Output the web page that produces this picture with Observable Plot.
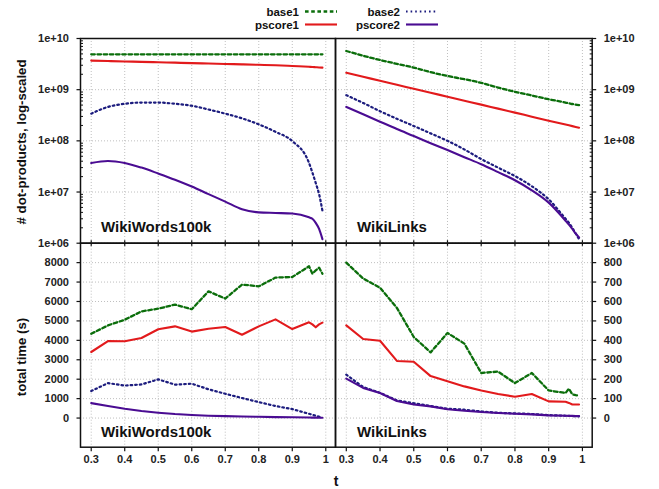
<!DOCTYPE html>
<html><head><meta charset="utf-8">
<script src="https://cdn.jsdelivr.net/npm/d3@7"></script>
<script src="https://cdn.jsdelivr.net/npm/@observablehq/plot@0.6"></script>
<style>
body{margin:0;background:#fff;}
#wrap{position:relative;width:659px;height:489px;overflow:hidden;background:#fff;}
#wrap > svg{position:absolute;left:0;top:0;}
</style></head><body><div id="wrap"></div>
<script>
// ---------- data ----------
const T = [0.30,0.35,0.40,0.45,0.50,0.55,0.60,0.65,0.70,0.75,0.80,0.85,0.90,0.95,0.96,0.97,0.98,0.99];

// # dot-products, WikiWords100k
const wwDotBase1  = [4.9e9,4.9e9,4.9e9,4.9e9,4.9e9,4.9e9,4.9e9,4.9e9,4.9e9,4.9e9,4.9e9,4.9e9,4.9e9,4.9e9,4.9e9,4.9e9,4.9e9,4.9e9];
const wwDotPscore1= [3.70e9,3.63e9,3.56e9,3.50e9,3.43e9,3.37e9,3.30e9,3.24e9,3.18e9,3.12e9,3.06e9,3.00e9,2.90e9,2.80e9,2.78e9,2.75e9,2.72e9,2.70e9];
const wwDotBase2  = [3.4e8,4.6e8,5.3e8,5.6e8,5.6e8,5.3e8,4.85e8,4.1e8,3.4e8,2.75e8,2.1e8,1.5e8,9.9e7,3.7e7,2.4e7,1.5e7,9.1e6,4.3e6];
const wwDotPscore2= [3.7e7,4.05e7,3.7e7,3.0e7,2.3e7,1.74e7,1.28e7,9.1e6,6.5e6,4.6e6,4.0e6,3.9e6,3.8e6,3.2e6,3.0e6,2.5e6,1.9e6,1.2e6];

// # dot-products, WikiLinks
const wlDotBase1  = [5.7e9,4.6e9,3.8e9,3.2e9,2.7e9,2.2e9,1.85e9,1.6e9,1.36e9,1.1e9,9.1e8,7.7e8,6.5e8,5.6e8,5.4e8,5.25e8,5.1e8,5.0e8];
const wlDotPscore1= [2.14e9,1.79e9,1.49e9,1.25e9,1.04e9,8.7e8,7.3e8,6.1e8,5.1e8,4.26e8,3.56e8,2.97e8,2.48e8,2.08e8,2.01e8,1.94e8,1.87e8,1.8e8];
const wlDotBase2  = [7.8e8,5.5e8,3.8e8,2.7e8,1.95e8,1.4e8,1.0e8,6.8e7,4.4e7,3.0e7,2.05e7,1.3e7,7.2e6,3.0e6,2.5e6,2.0e6,1.55e6,1.2e6];
const wlDotPscore2= [4.6e8,3.3e8,2.37e8,1.7e8,1.24e8,9.0e7,6.6e7,4.8e7,3.5e7,2.45e7,1.7e7,1.08e7,6.2e6,2.75e6,2.3e6,1.9e6,1.55e6,1.29e6];

// total time (s), WikiWords100k
const wwTimeBase1  = [4340,4770,5060,5490,5630,5840,5600,6520,6150,6870,6780,7230,7260,7810,7430,7600,7740,7430];
const wwTimePscore1= [3400,3960,3950,4120,4570,4720,4450,4600,4690,4290,4720,5080,4580,4930,4820,4670,4820,4910];
const wwTimeBase2  = [1390,1800,1670,1730,1990,1720,1770,1480,1250,1030,820,620,460,220,170,120,70,50];
const wwTimePscore2= [770,620,480,360,275,205,155,120,100,80,65,50,40,25,22,20,17,15];

// total time (s), WikiLinks
const wlTimeBase1  = [800,718,671,567,417,338,438,383,232,239,180,232,142,129,151,122,118,115];
const wlTimePscore1= [477,407,398,294,290,216,189,163,142,124,110,124,86,84,78,70,70,70];
const wlTimeBase2  = [223,160,130,91,76,62,48,43,34,27,24,21,15,12,11,10,10,9];
const wlTimePscore2= [203,155,129,88,70,60,45,38,31,26,22,19,14,12,11,11,10,10];

// ticks
const xTicks = [0.3,0.4,0.5,0.6,0.7,0.8,0.9,1.0];
const xTickLabels = ["0.3","0.4","0.5","0.6","0.7","0.8","0.9","1"];
const logTicks = [1e6,1e7,1e8,1e9,1e10];
const logTickLabels = ["1e+06","1e+07","1e+08","1e+09","1e+10"];
const logMinor = [2e6,3e6,4e6,5e6,6e6,7e6,8e6,9e6,2e7,3e7,4e7,5e7,6e7,7e7,8e7,9e7,2e8,3e8,4e8,5e8,6e8,7e8,8e8,9e8,2e9,3e9,4e9,5e9,6e9,7e9,8e9,9e9];
const wwTimeTicks = [0,1000,2000,3000,4000,5000,6000,7000,8000];
const wlTimeTicks = [0,100,200,300,400,500,600,700,800];

const seriesNames = ["base1","base2","pscore1","pscore2"];
const panelNames = ["WikiWords100k","WikiLinks"];

// ---------- styles ----------
const STY = {
  base1:  {stroke:"#0b6e0b", strokeWidth:2.3, strokeDasharray:"3.6,2.6"},
  base2:  {stroke:"#1c1c7e", strokeWidth:2.2, strokeDasharray:"1.6,3"},
  pscore1:{stroke:"#e21a1c", strokeWidth:2.1},
  pscore2:{stroke:"#4a0c92", strokeWidth:2.1}
};
const FONT = "'Liberation Sans', Arial, Helvetica, sans-serif";
const W = 659, H = 489;
const xL = 80, xM = 335, xR = 591.7, yT = 38, yMid = 242.7, yB = 446.7;

function seg(x1,y1,x2,y2){ return {draw(c){ c.moveTo(x1,y1); c.lineTo(x2,y2); }}; }

function panel({left, top, series, yType, yDomain, yTicks, yLabels, yMinor, side, bottomPanel}) {
  const ml = left ? xL : xM, mr = W - (left ? xM : xR);
  const mt = top ? yT : yMid, mb = H - (top ? yMid : yB);
  const grid = {stroke:"#b8b8b8", strokeWidth:0.9, strokeDasharray:"1,2"};
  const marks = [
    Plot.ruleX(xTicks, {x:d=>d, ...grid}),
    Plot.ruleY(yTicks, {y:d=>d, ...grid})
  ];
  series.forEach((vals, k) => {
    const name = seriesNames[k];
    marks.push(Plot.line(T.map((t,i)=>({t, v:vals[i]})), {x:"t", y:"v", ...STY[name], curve: top ? "monotone-x" : "linear", strokeLinejoin:"round"}));
  });
  marks.push(Plot.frame({stroke:"#111", strokeWidth:1.5}));
  // x tick marks
  marks.push(Plot.dot(xTicks, {x:d=>d, y:yDomain[0], symbol: bottomPanel ? seg(0,0,0,4) : seg(0,-3,0,3), stroke:"#111", strokeWidth:1.2, fill:"none"}));
  // y tick marks
  const sgn = side === "left" ? -1 : 1;
  marks.push(Plot.dot(yTicks, {y:d=>d, frameAnchor:side, symbol: seg(0,0,sgn*4,0), stroke:"#111", strokeWidth:1.2, fill:"none"}));
  if (yMinor) marks.push(Plot.dot(yMinor, {y:d=>d, frameAnchor:side, symbol: seg(0,0,-sgn*2.5,0), stroke:"#111", strokeWidth:1, fill:"none"}));
  const tstyle = {fontSize:11, fontWeight:"bold", fill:"#222", fontFamily:FONT};
  marks.push(Plot.text(yTicks, {y:d=>d, text:(d,i)=>yLabels[i], frameAnchor:side, dx: sgn*11.5, textAnchor: side === "left" ? "end" : "start", ...tstyle}));
  if (bottomPanel) marks.push(Plot.text(xTicks, {x:d=>d, text:(d,i)=>xTickLabels[i], frameAnchor:"bottom", dy:15.5, ...tstyle}));
  return Plot.plot({
    width: W, height: H,
    marginLeft: ml, marginRight: mr, marginTop: mt, marginBottom: mb,
    x: {domain:[0.268,1.029], axis:null},
    y: {type:yType, domain:yDomain, axis:null},
    style: {background:"none", overflow:"visible", fontFamily:FONT},
    marks
  });
}

const wrap = document.getElementById("wrap");
wrap.appendChild(panel({left:true, top:true, series:[wwDotBase1,wwDotBase2,wwDotPscore1,wwDotPscore2], yType:"log", yDomain:[1e6,1e10], yTicks:logTicks, yLabels:logTickLabels, yMinor:logMinor, side:"left", bottomPanel:false}));
wrap.appendChild(panel({left:false, top:true, series:[wlDotBase1,wlDotBase2,wlDotPscore1,wlDotPscore2], yType:"log", yDomain:[1e6,1e10], yTicks:logTicks, yLabels:logTickLabels, yMinor:logMinor, side:"right", bottomPanel:false}));
wrap.appendChild(panel({left:true, top:false, series:[wwTimeBase1,wwTimeBase2,wwTimePscore1,wwTimePscore2], yType:"linear", yDomain:[-1500,9000], yTicks:wwTimeTicks, yLabels:wwTimeTicks.map(String), yMinor:null, side:"left", bottomPanel:true}));
wrap.appendChild(panel({left:false, top:false, series:[wlTimeBase1,wlTimeBase2,wlTimePscore1,wlTimePscore2], yType:"linear", yDomain:[-150,900], yTicks:wlTimeTicks, yLabels:wlTimeTicks.map(String), yMinor:null, side:"right", bottomPanel:true}));

// ---------- overlay: legend, axis titles, panel labels ----------
const ov = d3.select(wrap).append("svg").attr("width", W).attr("height", H)
  .style("font-family", FONT).style("font-weight", "bold").style("pointer-events","none");

const legendPos = [
  {name:"base1",   tx:299, sx:305, y:11.5},
  {name:"base2",   tx:400, sx:406, y:11.5},
  {name:"pscore1", tx:299, sx:305, y:24.5},
  {name:"pscore2", tx:400, sx:406, y:24.5}
];
legendPos.forEach(p => {
  ov.append("text").attr("x", p.tx).attr("y", p.y).attr("dy","0.35em").attr("text-anchor","end")
    .attr("font-size", 11.5).attr("fill","#111").text(p.name);
  const s = STY[p.name];
  ov.append("line").attr("x1", p.sx).attr("x2", p.sx + 32).attr("y1", p.y).attr("y2", p.y)
    .attr("stroke", s.stroke).attr("stroke-width", s.strokeWidth).attr("stroke-dasharray", s.strokeDasharray || null);
});

ov.append("text").attr("transform","translate(21,142) rotate(-90)").attr("text-anchor","middle").attr("dy","0.35em")
  .attr("font-size",13.2).attr("fill","#111").text("# dot-products, log-scaled");
ov.append("text").attr("transform","translate(21,357) rotate(-90)").attr("text-anchor","middle").attr("dy","0.35em")
  .attr("font-size",13.2).attr("fill","#111").text("total time (s)");
ov.append("text").attr("x",336).attr("y",481).attr("dy","0.35em").attr("text-anchor","middle")
  .attr("font-size",14).attr("fill","#111").text("t");

[[101,232],[357,232],[101,436.5],[357,436.5]].forEach(([x,y],i) => {
  ov.append("text").attr("x",x).attr("y",y).attr("font-size",15).attr("fill","#111").text(panelNames[i % 2]);
});
</script></body></html>
